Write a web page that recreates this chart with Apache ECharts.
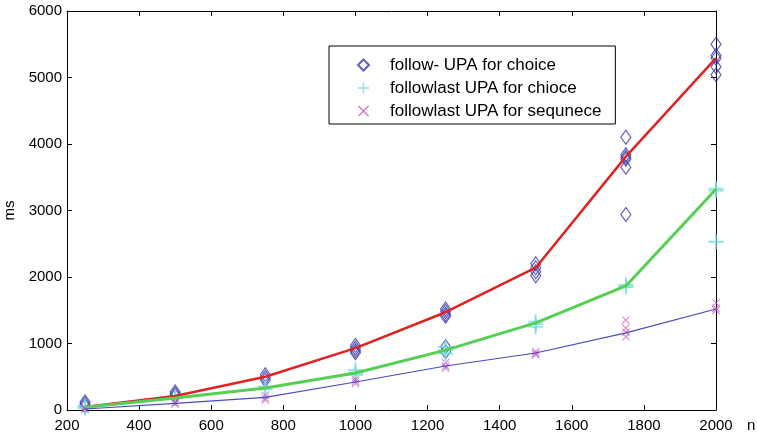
<!DOCTYPE html>
<html>
<head>
<meta charset="utf-8">
<script src="https://cdn.jsdelivr.net/npm/echarts@6/dist/echarts.min.js"></script>
<style>
  html, body { margin: 0; padding: 0; background: #fff; }
  #chart { width: 757px; height: 436px; }
</style>
</head>
<body>
<div id="chart"></div>
<script>
// problem sizes (n)
var xs = [250, 500, 750, 1000, 1250, 1500, 1750, 2000];

// mean curves
var followMean = [45, 210, 500, 930, 1470, 2140, 3810, 5290];
var lastChoiceMean = [40, 180, 330, 556, 900, 1310, 1865, 3320];
var lastSeqMean = [15, 100, 190, 421, 662, 857, 1160, 1519];

// individual runs, one list per n
var followRuns = [
    [120, 90, 60],
    [270, 240, 210],
    [530, 490, 450],
    [970, 930, 890, 860],
    [1520, 1480, 1440, 1410, 950, 880],
    [2200, 2140, 2080, 2020],
    [4100, 3840, 3800, 3770, 3650, 2940],
    [5500, 5330, 5290, 5160, 5040]
];
var lastChoiceRuns = [
    [60, 30],
    [200, 170],
    [350, 310],
    [600, 560, 530],
    [950, 900, 850],
    [1330, 1290, 1250],
    [1880, 1850],
    [3330, 3300, 2530]
];
var lastSeqRuns = [
    [30, 10],
    [110, 90],
    [220, 180, 150],
    [460, 430, 400],
    [710, 660, 630],
    [880, 850, 830],
    [1350, 1230, 1170, 1100],
    [1610, 1530, 1500]
];

var xTicks = [200, 2000, 200];
var yTicks = [0, 6000, 1000];

function pairs(vals) {
    return xs.map(function (x, i) { return [x, vals[i]]; });
}
function points(runs) {
    var out = [];
    runs.forEach(function (list, i) {
        list.forEach(function (v) { out.push([xs[i], v]); });
    });
    return out;
}
function plain(v) { return String(v); }

var font = 'Liberation Sans, Arial, sans-serif';
var plusPath = 'path://M4.4,0H5.6V4.4H10V5.6H5.6V10H4.4V5.6H0V4.4H4.4Z';
var crossPath = 'path://M0,0.8L0.8,0L5,4.2L9.2,0L10,0.8L5.8,5L10,9.2L9.2,10L5,5.8L0.8,10L0,9.2L4.2,5Z';
var axisLine = { show: true, onZero: false, lineStyle: { color: '#000', width: 1 } };
var axisTick = { show: true, inside: true, length: 5, lineStyle: { color: '#000' } };

var chart = echarts.init(document.getElementById('chart'));
chart.setOption({
    animation: false,
    textStyle: { fontFamily: font },
    grid: { left: 67, top: 11, right: 41, bottom: 26, outerBoundsMode: 'none', containLabel: false },
    legend: {
        orient: 'vertical',
        left: 329,
        top: 46,
        data: [
            { name: 'follow- UPA for choice' },
            { name: 'followlast UPA for chioce' },
            { name: 'followlast UPA for sequnece', itemStyle: { color: '#c050c0' } }
        ],
        backgroundColor: '#fff',
        borderColor: '#000',
        borderWidth: 1,
        padding: [9, 14, 3, 28],
        itemWidth: 11,
        itemHeight: 11,
        itemGap: 3,
        textStyle: { fontSize: 17, lineHeight: 20, color: '#000', fontFamily: font, padding: [0, 0, 0, 16] }
    },
    xAxis: [
        {
            type: 'value', min: xTicks[0], max: xTicks[1], interval: xTicks[2],
            name: 'n', nameLocation: 'end', nameGap: 31,
            nameTextStyle: { fontSize: 15, color: '#000', verticalAlign: 'top', padding: [8, 0, 0, 0] },
            axisLine: axisLine,
            axisTick: axisTick,
            axisLabel: { fontSize: 15, color: '#000', margin: 8, formatter: plain },
            splitLine: { show: false }
        },
        {
            type: 'value', min: xTicks[0], max: xTicks[1], interval: xTicks[2],
            position: 'top',
            axisLine: axisLine,
            axisTick: axisTick,
            axisLabel: { show: false },
            splitLine: { show: false }
        }
    ],
    yAxis: [
        {
            type: 'value', min: yTicks[0], max: yTicks[1], interval: yTicks[2],
            name: 'ms', nameLocation: 'middle', nameGap: 47, nameRotate: 90,
            nameTextStyle: { fontSize: 15, color: '#000' },
            axisLine: axisLine,
            axisTick: axisTick,
            axisLabel: { fontSize: 15, color: '#000', margin: 5, formatter: plain },
            splitLine: { show: false }
        },
        {
            type: 'value', min: yTicks[0], max: yTicks[1], interval: yTicks[2],
            position: 'right',
            axisLine: axisLine,
            axisTick: axisTick,
            axisLabel: { show: false },
            splitLine: { show: false }
        }
    ],
    series: [
        {
            name: 'follow- UPA for choice', type: 'scatter',
            symbol: 'diamond', symbolSize: [10, 14],
            itemStyle: { color: 'rgba(0,0,0,0)', borderColor: '#3a3aa8', borderWidth: 1.2 },
            data: points(followRuns)
        },
        {
            name: 'followlast UPA for chioce', type: 'scatter',
            symbol: plusPath, symbolSize: 15,
            itemStyle: { color: '#6fdcdc' },
            data: points(lastChoiceRuns)
        },
        {
            name: 'followlast UPA for sequnece', type: 'scatter',
            symbol: crossPath, symbolSize: 8,
            itemStyle: { color: '#c050c0' },
            data: points(lastSeqRuns)
        },
        {
            name: 'follow mean', type: 'line', showSymbol: false, z: 5,
            lineStyle: { color: '#e02222', width: 2.5 },
            data: pairs(followMean)
        },
        {
            name: 'followlast choice mean', type: 'line', showSymbol: false, z: 5,
            lineStyle: { color: '#55d055', width: 3 },
            data: pairs(lastChoiceMean)
        },
        {
            name: 'followlast sequence mean', type: 'line', showSymbol: false, z: 5,
            lineStyle: { color: '#4a4ac0', width: 1.2 },
            data: pairs(lastSeqMean)
        }
    ]
});
</script>
</body>
</html>
